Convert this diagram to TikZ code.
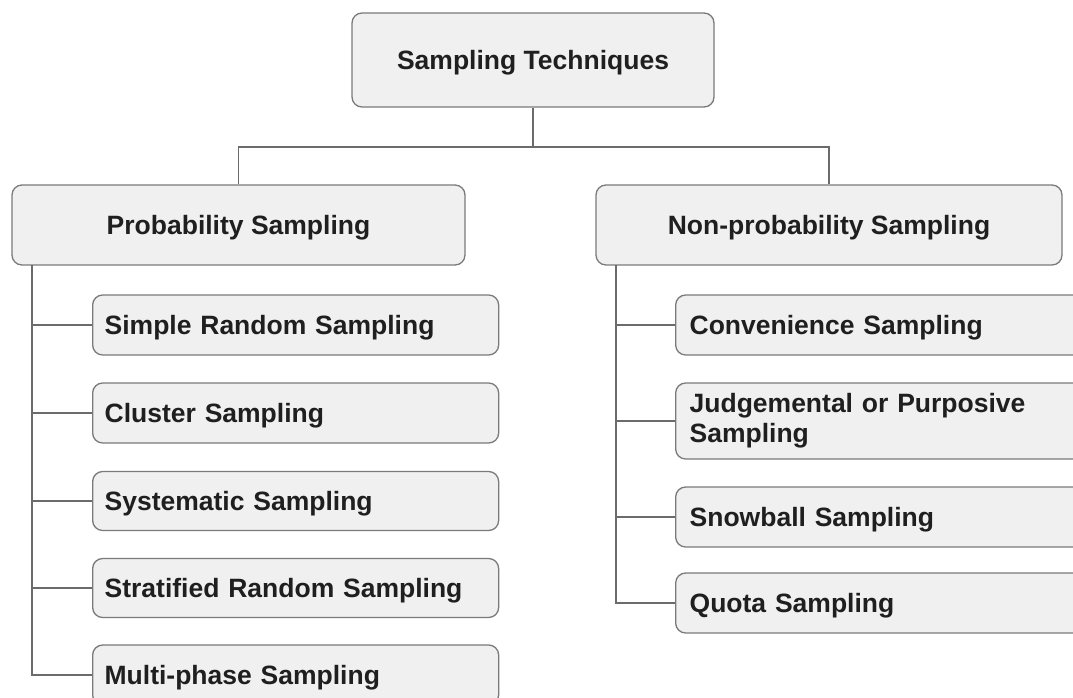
\documentclass[tikz,border=0pt]{standalone}
\usepackage{fontspec}
\setmainfont{Liberation Sans}
\begin{document}
\begin{tikzpicture}[x=1pt,y=-1pt,
  every node/.style={font=\bfseries\fontsize{26.5}{30}\selectfont, text=black!88},
  boxbase/.style={draw=black!52, fill=black!6, line width=1.3pt, rounded corners=10pt},
  headbox/.style={boxbase, align=center, text depth=0pt},
  leafbase/.style={boxbase, anchor=west, align=left, inner xsep=12pt, inner ysep=0pt},
  leafbox/.style={leafbase, text depth=0pt},
  link/.style={draw=black!58, line width=1.3pt}]
\useasboundingbox (0,0) rectangle (1073,698);
\clip (0,0) rectangle (1073,698);

% root and the two main families
\node[headbox, minimum width=362pt, minimum height=94pt] (root) at (533,60) {Sampling Techniques};
\node[headbox, minimum width=453pt, minimum height=80pt] (prob) at (238.5,225) {Probability Sampling};
\node[headbox, minimum width=466pt, minimum height=80pt] (nonprob) at (829,225) {Non-probability Sampling};

% probability methods
\node[leafbox, text width=382pt, minimum height=60pt] (srs)   at (92,325) {Simple Random Sampling};
\node[leafbox, text width=382pt, minimum height=60pt] (clus)  at (92,413) {Cluster Sampling};
\node[leafbox, text width=382pt, minimum height=59pt] (sys)   at (92,501) {Systematic Sampling};
\node[leafbox, text width=382pt, minimum height=59pt] (strat) at (92,588) {Stratified Random Sampling};
\node[leafbox, text width=382pt, minimum height=60pt] (multi) at (92,675) {Multi-phase Sampling};

% non-probability methods
\node[leafbox, inner xsep=14pt, text width=412pt, minimum height=60pt] (conv)  at (675,325) {Convenience Sampling};
\node[leafbase, inner xsep=14pt, text width=412pt, minimum height=76pt] (judg)  at (675,421) {Judgemental or Purposive\\Sampling};
\node[leafbox, inner xsep=14pt, text width=412pt, minimum height=60pt] (snow)  at (675,517) {Snowball Sampling};
\node[leafbox, inner xsep=14pt, text width=412pt, minimum height=60pt] (quota) at (675,603) {Quota Sampling};

% root to families
\coordinate (fork) at (533,147);
\draw[link] (root.south) -- (fork);
\draw[link] (fork) -| (prob.north);
\draw[link] (fork) -| (nonprob.north);

% left spine
\coordinate (lspine) at (32,265);
\draw[link] (lspine) |- (multi.west);
\foreach \n in {srs,clus,sys,strat}
  \draw[link] (\n.west) -- (32,0 |- \n.west);

% right spine
\coordinate (rspine) at (616,265);
\draw[link] (rspine) |- (quota.west);
\foreach \n in {conv,judg,snow}
  \draw[link] (\n.west) -- (616,0 |- \n.west);
\end{tikzpicture}
\end{document}
